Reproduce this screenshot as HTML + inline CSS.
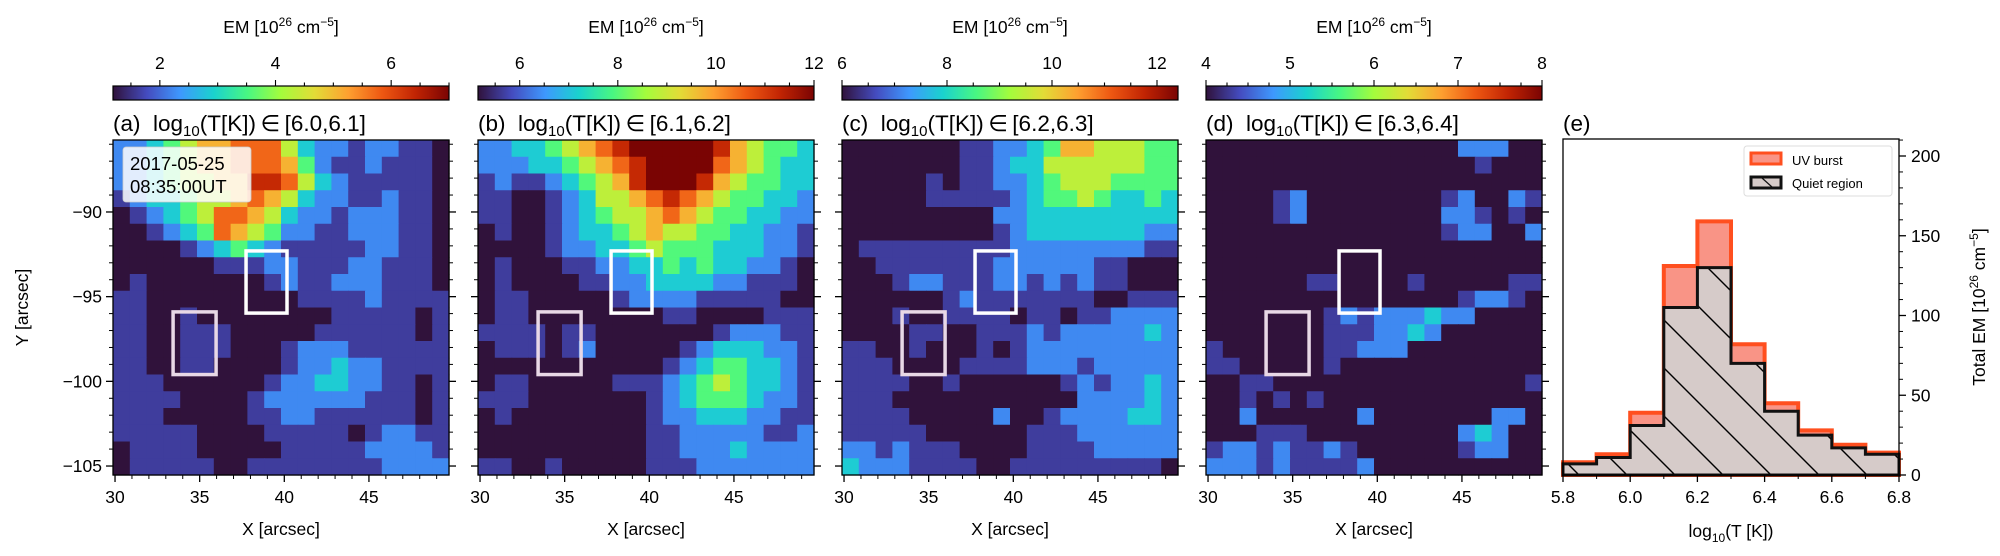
<!DOCTYPE html>
<html><head><meta charset="utf-8">
<style>
html,body{margin:0;padding:0;background:#fff;}
svg{display:block;font-family:"Liberation Sans","DejaVu Sans",sans-serif;}
</style></head>
<body>
<svg id="fig" width="2000" height="556" viewBox="0 0 2000 556" xmlns="http://www.w3.org/2000/svg">
<defs>
<pattern id="hatch" patternUnits="userSpaceOnUse" width="48" height="48">
<line x1="-2" y1="-2" x2="50" y2="50" stroke="#000" stroke-width="1.4"/>
<line x1="-50" y1="-2" x2="2" y2="50" stroke="#000" stroke-width="1.4"/>
<line x1="46" y1="-2" x2="98" y2="50" stroke="#000" stroke-width="1.4"/>
</pattern>
</defs>
</svg>
<script>
// ---------- DATA ----------
const panelLabels = ["(a)","(b)","(c)","(d)"];
const tempRanges = ["[6.0,6.1]","[6.1,6.2]","[6.2,6.3]","[6.3,6.4]"];
const cbarMin = [1.19, 5.15, 6.0, 4.0];
const cbarMax = [7.0, 12.0, 12.4, 8.0];
const cbarTicks = [[2,4,6],[6,8,10,12],[6,8,10,12],[4,5,6,7,8]];
const cbarMinorStep = [0.5, 0.5, 0.5, 0.25];
const xTicks = [30,35,40,45];
const yTicks = [-90,-95,-100,-105];
const xRange = [29.88, 49.73];
const yRange = [-85.75, -105.53];
// level -> fraction of colour range
const levelFrac = [0, 0.075, 0.18, 0.29, 0.41, 0.54, 0.67, 0.78, 0.89, 1.0];
// EM maps, level digits 0-9, 20x20, top row first
const mapA = [
"22345667775322122110","22345667776421121110","22345566887532111110","12334556765322112110",
"01234577653221222110","00123476542211222110","00001234321111122110","00000011122111221110",
"01000000012112221110","11000000000111121111","11001000000001111101","11001110000011111101",
"11001110001222111111","11001100001223221111","11100000012233221101","11110000122222211101",
"11100000112211111101","11111000011111012211","01111000001111122221","01111100111111112222"];
const mapB = [
"22334567899999865443","22233456789999765433","12112345689998654433","11001235567876544332",
"11001234556765443322","01001233456554433221","00001223345444333221","01000112233434332210",
"01000011223333221110","01100000122221111100","01100000000110000111","11110110000000122211",
"01110120000012333221","00000000000123443321","01100000111234543321","11100000001234443221",
"01000000001223332211","00000000001122222112","00000000001122232222","11001000001112222222"];
const mapC = [
"00000001122346655544","00000001123355555544","00000101122345554444","00000111112344543343",
"00000000022333333333","00000000012333333322","01111111112222222211","00111111122222211000",
"00012211122121211000","00000012111111100111","00010011110110112222","00001100111212222232",
"11001000101222222222","11100001111222122222","11110010000001212232","11100000000000222232",
"11110000020012222332","11111000000111222222","22121110000111122222","32221111001111111110"];
const mapD = [
"00000000000000022200","00000000000000001000","00000000000000000000","00001200000000120021",
"00001200000000221010","00000000000000122002","00000000000000000000","00000000000000000000",
"00000011000010000011","00000000000000012210","00000001212223220000","00000001112232000000",
"10000001122200000000","11000001000000000000","00110000000000000001","00101010000000000000",
"00200000020000000220","00011100000000023200","12212112100000012200","22212111120000000000"];
const emMaps = [mapA, mapB, mapC, mapD];
const burstBox = [37.74, 40.16, -92.3, -95.97];
const quietBox = [33.43, 35.97, -95.9, -99.6];
// histogram (e)
const binEdges = [5.8,5.9,6.0,6.1,6.2,6.3,6.4,6.5,6.6,6.7,6.8];
const uvBurst = [8,13,39,131,159,82,45,28,19,14];
const quietRegion = [7,11,31,105,130,70,40,25,17,13];
const histXTicks = [5.8,6.0,6.2,6.4,6.6,6.8];
const histYTicks = [0,50,100,150,200];

// ---------- HELPERS ----------
const svg = document.getElementById('fig');
const NS = 'http://www.w3.org/2000/svg';
function mk(tag, attrs, parent){ const e=document.createElementNS(NS,tag); for(const k in attrs) e.setAttribute(k,attrs[k]); (parent||svg).appendChild(e); return e; }
const TURBO = [[48,18,59],[68,75,190],[62,152,254],[26,210,206],[72,247,130],[164,252,60],[226,220,55],[254,160,48],[238,88,18],[193,36,3],[122,4,3]];
function turbo(x){ x=Math.max(0,Math.min(1,x))*10; const i=Math.min(9,Math.floor(x)), f=x-i;
  const a=TURBO[i], b=TURBO[i+1];
  return `rgb(${Math.round(a[0]+(b[0]-a[0])*f)},${Math.round(a[1]+(b[1]-a[1])*f)},${Math.round(a[2]+(b[2]-a[2])*f)})`; }
const FS = 17.5;
const panelLeft = [113, 478, 842, 1206];
const PW = 336, PT = 140, PB = 475;

panelLeft.forEach((L, p) => {
  const sx = v => L + (v - xRange[0]) / (xRange[1] - xRange[0]) * PW;
  const sy = v => PT + (v - yRange[0]) / (yRange[1] - yRange[0]) * (PB - PT);
  const g = mk('g', {});
  
  
  const grid = emMaps[p];
  const n = grid.length, m = grid[0].length;
  const dx = (xRange[1]-xRange[0])/m, dy = (yRange[1]-yRange[0])/n;
  const hm = mk('g', {}, g);
  
  
  for (let r = 0; r < n; r++) for (let c = 0; c < m; c++) {
    const lvl = +grid[r][c];
    const val = cbarMin[p] + levelFrac[lvl]*(cbarMax[p]-cbarMin[p]);
    const frac = (val - cbarMin[p])/(cbarMax[p]-cbarMin[p]);
    const x0 = sx(xRange[0]+c*dx), x1 = sx(xRange[0]+(c+1)*dx);
    const y0 = sy(yRange[0]+r*dy), y1 = sy(yRange[0]+(r+1)*dy);
    const cell = mk('rect', {x:x0, y:y0, width:x1-x0+0.6, height:y1-y0+0.6, fill:turbo(frac)}, hm);
    
    
  }
  const qb = mk('rect', {x:sx(quietBox[0]), y:sy(quietBox[2]), width:sx(quietBox[1])-sx(quietBox[0]), height:sy(quietBox[3])-sy(quietBox[2]), fill:'none', stroke:'#e8d8e6', 'stroke-width':3.5}, g);
  
  
  const bb = mk('rect', {x:sx(burstBox[0]), y:sy(burstBox[2]), width:sx(burstBox[1])-sx(burstBox[0]), height:sy(burstBox[3])-sy(burstBox[2]), fill:'none', stroke:'#fff', 'stroke-width':3.5}, g);
  
  
  mk('rect', {x:L, y:PT, width:PW, height:PB-PT, fill:'none', stroke:'#000', 'stroke-width':1.3}, g);
  for (let v = 30; v <= 49; v++) {
    const major = v % 5 === 0;
    mk('line', {x1:sx(v), x2:sx(v), y1:PB, y2:PB+(major?7:4), stroke:'#000', 'stroke-width':major?1.3:1}, g);
  }
  xTicks.forEach(v => {
    const t = mk('text', {x:sx(v), y:PB+28, 'text-anchor':'middle', 'font-size':FS}, g);
    t.textContent = v;
    
    
  });
  const xt = mk('text', {x:L+PW/2, y:535, 'text-anchor':'middle', 'font-size':FS}, g);
  xt.textContent = 'X [arcsec]';
  
  
  for (let v = -86; v >= -105; v--) {
    const major = v % 5 === 0;
    const len = major ? 7 : 4;
    mk('line', {x1:L-len, x2:L, y1:sy(v), y2:sy(v), stroke:'#000', 'stroke-width':major?1.3:1}, g);
    mk('line', {x1:L+PW, x2:L+PW+len, y1:sy(v), y2:sy(v), stroke:'#000', 'stroke-width':major?1.3:1}, g);
  }
  if (p === 0) {
    yTicks.forEach(v => {
      const t = mk('text', {x:L-11, y:sy(v)+6, 'text-anchor':'end', 'font-size':FS}, g);
      t.textContent = '\u2212' + Math.abs(v);
      
      
    });
    const yt = mk('text', {x:0, y:0, 'text-anchor':'middle', 'font-size':FS, transform:`translate(28,${(PT+PB)/2}) rotate(-90)`}, g);
    yt.textContent = 'Y [arcsec]';
    
    
    const tb = mk('rect', {x:123, y:147, width:128, height:55, fill:'#fff', 'fill-opacity':0.85, stroke:'#ccc', 'stroke-width':0.8, rx:3}, g);
    
    
    const t1 = mk('text', {x:130, y:170, 'font-size':18.5}, g); t1.textContent = '2017-05-25';
    
    
    const t2 = mk('text', {x:130, y:193, 'font-size':18.5}, g); t2.textContent = '08:35:00UT';
    
    
  }
  const tt = mk('text', {x:L, y:131, 'font-size':22.5}, g);
  tt.innerHTML = panelLabels[p] + '\u00a0\u00a0log<tspan font-size="15" dy="5">10</tspan><tspan dy="-5">(T[K])\u2009\u2208\u2009' + tempRanges[p] + '</tspan>';
  
  
  const gid = 'cg' + p;
  const lg = mk('linearGradient', {id:gid, x1:0, x2:1, y1:0, y2:0}, svg.querySelector('defs'));
  for (let i = 0; i <= 40; i++) mk('stop', {offset:i/40, 'stop-color':turbo(i/40)}, lg);
  const cb = mk('rect', {x:L, y:86, width:PW, height:14, fill:`url(#${gid})`, stroke:'#000', 'stroke-width':1.2}, g);
  
  
  const cx = v => L + (v - cbarMin[p])/(cbarMax[p]-cbarMin[p])*PW;
  for (let v = Math.ceil(cbarMin[p]/cbarMinorStep[p])*cbarMinorStep[p]; v <= cbarMax[p]+1e-9; v += cbarMinorStep[p]) {
    const major = cbarTicks[p].some(t => Math.abs(t-v) < 1e-6);
    mk('line', {x1:cx(v), x2:cx(v), y1:86, y2:86-(major?6:3.5), stroke:'#000', 'stroke-width':1.1}, g);
  }
  cbarTicks[p].forEach(v => {
    const t = mk('text', {x:cx(v), y:69, 'text-anchor':'middle', 'font-size':FS}, g);
    t.textContent = v;
    
    
  });
  const ct = mk('text', {x:L+PW/2, y:33, 'text-anchor':'middle', 'font-size':FS}, g);
  ct.innerHTML = 'EM [10<tspan font-size="12" dy="-7">26</tspan><tspan dy="7"> cm</tspan><tspan font-size="12" dy="-7">\u22125</tspan><tspan dy="7">]</tspan>';
  
  
});

// ---------- HISTOGRAM ----------
(function(){
  const HL = 1563, HR = 1899, HT = 139, HB = 475;
  const hx = v => HL + (v - 5.8)/(6.8-5.8)*(HR-HL);
  const hy = v => HB - v*1.595;
  const g = mk('g', {});
  
  
  function stepPath(vals){
    let d = `M${hx(binEdges[0])},${hy(0)}`;
    vals.forEach((v,i)=>{ d += ` L${hx(binEdges[i])},${hy(v)} L${hx(binEdges[i+1])},${hy(v)}`; });
    d += ` L${hx(binEdges[binEdges.length-1])},${hy(0)} Z`;
    return d;
  }
  const uv = mk('path', {d:stepPath(uvBurst), fill:'#f99486', stroke:'#ff4f1f', 'stroke-width':4, 'stroke-linejoin':'miter'}, g);
  
  
  const q = mk('path', {d:stepPath(quietRegion), fill:'#d6cbc9', stroke:'none'}, g);
  
  
  mk('path', {d:stepPath(quietRegion), fill:'url(#hatch)', stroke:'#111', 'stroke-width':3}, g);
  mk('rect', {x:HL, y:HT, width:HR-HL, height:HB-HT, fill:'none', stroke:'#000', 'stroke-width':1.3}, g);
  for (let i = 0; i <= 10; i++) {
    const v = 5.8 + i*0.1, major = i % 2 === 0;
    mk('line', {x1:hx(v), x2:hx(v), y1:HB, y2:HB+(major?7:4), stroke:'#000', 'stroke-width':major?1.3:1}, g);
  }
  histXTicks.forEach(v => {
    const t = mk('text', {x:hx(v), y:HB+28, 'text-anchor':'middle', 'font-size':FS}, g);
    t.textContent = v.toFixed(1);
    
    
  });
  for (let v = 0; v <= 210; v += 10) {
    const major = v % 50 === 0;
    mk('line', {x1:HR, x2:HR+(major?7:4), y1:hy(v), y2:hy(v), stroke:'#000', 'stroke-width':major?1.3:1}, g);
  }
  histYTicks.forEach(v => {
    const t = mk('text', {x:HR+12, y:hy(v)+6, 'font-size':FS}, g);
    t.textContent = v;
    
    
  });
  const xt = mk('text', {x:(HL+HR)/2, y:537, 'text-anchor':'middle', 'font-size':FS}, g);
  xt.innerHTML = 'log<tspan font-size="12" dy="5">10</tspan><tspan dy="-5">(T [K])</tspan>';
  
  
  const yt = mk('text', {x:0, y:0, 'text-anchor':'middle', 'font-size':FS, transform:`translate(1985,${(HT+HB)/2}) rotate(-90)`}, g);
  yt.innerHTML = 'Total EM [10<tspan font-size="12" dy="-7">26</tspan><tspan dy="7"> cm</tspan><tspan font-size="12" dy="-7">\u22125</tspan><tspan dy="7">]</tspan>';
  
  
  const et = mk('text', {x:HL, y:131, 'font-size':22.5}, g);
  et.textContent = '(e)';
  
  
  const lg = mk('g', {}, g);
  
  
  mk('rect', {x:1744, y:146, width:148, height:50, fill:'#fff', 'fill-opacity':0.85, stroke:'#ddd', 'stroke-width':1, rx:3}, lg);
  const e1 = mk('rect', {x:1751, y:153, width:30, height:11, fill:'#f99486', stroke:'#ff4f1f', 'stroke-width':3}, lg);
  
  
  const l1 = mk('text', {x:1792, y:165, 'font-size':13}, lg); l1.textContent = 'UV burst';
  
  
  const e2 = mk('rect', {x:1751, y:177, width:30, height:11, fill:'#d6cbc9', stroke:'#111', 'stroke-width':3}, lg);
  
  
  mk('line', {x1:1762, y1:178, x2:1772, y2:187, stroke:'#111', 'stroke-width':1.2}, lg);
  const l2 = mk('text', {x:1792, y:188, 'font-size':13}, lg); l2.textContent = 'Quiet region';
  
  
})();
</script>
</body></html>
